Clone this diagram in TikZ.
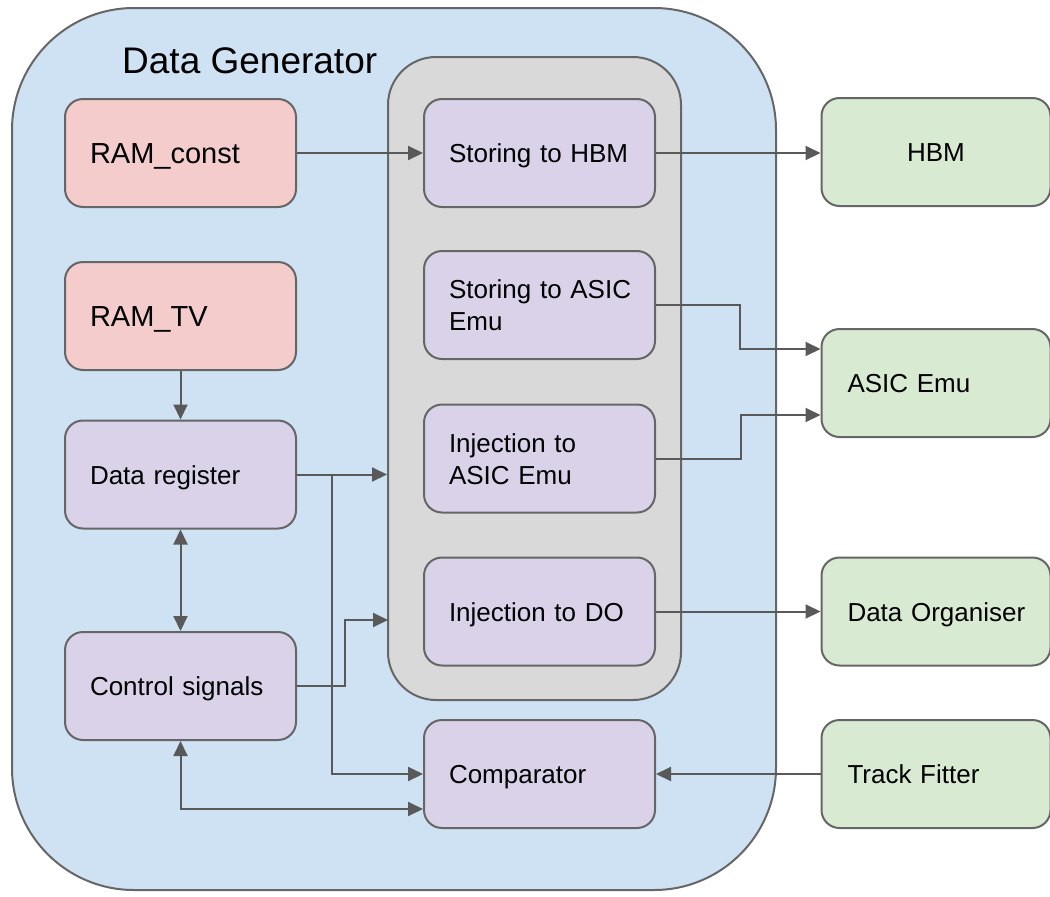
\documentclass[tikz,border=0pt]{standalone}
\usepackage{fontspec}
\setmainfont{Liberation Sans}
\usetikzlibrary{arrows.meta}
\definecolor{outerblue}{HTML}{CFE2F3}
\definecolor{grayfill}{HTML}{D9D9D9}
\definecolor{pinkfill}{HTML}{F4CCCC}
\definecolor{purplefill}{HTML}{D9D2E9}
\definecolor{greenfill}{HTML}{D9EAD3}
\definecolor{bordercol}{HTML}{666666}
\definecolor{linecol}{HTML}{595959}
\tikzset{
  box/.style={draw=bordercol, line width=2pt, rounded corners=18pt, minimum height=108pt,
    inner ysep=0pt, inner xsep=25pt, text width=181pt, align=left,
    font=\fontsize{26}{32}\selectfont, text=black, text height=19pt, text depth=0pt},
  twoline/.style={text depth=32pt},
  ramb/.style={box, fill=pinkfill, font=\fontsize{29}{34}\selectfont, text height=21pt},
  procb/.style={box, fill=purplefill},
  extb/.style={box, fill=greenfill, text width=177pt, inner xsep=26pt},
  conn/.style={draw=linecol, line width=2pt, -{Triangle[length=15pt,width=14pt]}},
  bconn/.style={draw=linecol, line width=2pt, {Triangle[length=15pt,width=14pt]}-{Triangle[length=15pt,width=14pt]}},
}
\begin{document}
\begin{tikzpicture}[x=1pt,y=-1pt]
\useasboundingbox (0,0) rectangle (1050,897);
% outer container
\node[draw=bordercol, fill=outerblue, line width=2pt, rounded corners=122pt,
  minimum width=764pt, minimum height=882pt, inner sep=0pt] (dg) at (394,449) {};
\node[anchor=base west, font=\fontsize{37}{42}\selectfont, inner sep=0pt] (title) at (122,73) {Data Generator};
% gray group
\node[draw=bordercol, fill=grayfill, line width=2pt, rounded corners=48pt,
  minimum width=293pt, minimum height=643pt, inner sep=0pt] (grp) at (534.5,378.5) {};
% left column
\node[ramb] (ramc) at (180.5,153) {\mbox{RAM\_const}};
\node[ramb] (ramtv) at (180.5,316) {\mbox{RAM\_TV}};
\node[procb] (datareg) at (180.5,474.5) {\mbox{Data register}};
\node[procb] (ctrl) at (180.5,686) {\mbox{Control signals}};
% middle column
\node[procb] (shbm) at (539.5,153) {\mbox{Storing to HBM}};
\node[procb, twoline] (sasic) at (539.5,305) {\mbox{Storing to ASIC}\\\mbox{Emu}};
\node[procb, twoline] (iasic) at (539.5,458.5) {\mbox{Injection to}\\\mbox{ASIC Emu}};
\node[procb] (ido) at (539.5,611.5) {\mbox{Injection to DO}};
\node[procb] (comp) at (539.5,774) {\mbox{Comparator}};
% right column
\node[extb, align=center] (hbm) at (936,152) {\mbox{HBM}};
\node[extb] (asic) at (936,383) {\mbox{ASIC Emu}};
\node[extb] (dorg) at (936,611.5) {\mbox{Data Organiser}};
\node[extb] (tf) at (936,774) {\mbox{Track Fitter}};
% connectors
\draw[conn] (ramc.east) -- (shbm.west);
\draw[conn] (shbm.east) -- (hbm.west |- shbm.east);
\draw[conn] (sasic.east) -- ++(84,0) |- ([yshift=34pt]asic.west);
\draw[conn] (iasic.east) -- ++(85,0) |- ([yshift=-32pt]asic.west);
\draw[conn] (ido.east) -- (dorg.west);
\draw[conn] (tf.west) -- (comp.east);
\draw[conn] (ramtv.south) -- (datareg.north);
\draw[bconn] (datareg.south) -- (ctrl.north);
\draw[conn] (datareg.east) -- (grp.west |- datareg.east);
\coordinate (br) at (332,474.5);
\draw[conn] (br) |- (comp.west);
\coordinate (cin) at (388,620);
\draw[conn] (ctrl.east) -- ++(48,0) |- (cin);
\draw[bconn] (ctrl.south) |- ([yshift=-35pt]comp.west);
\end{tikzpicture}
\end{document}
